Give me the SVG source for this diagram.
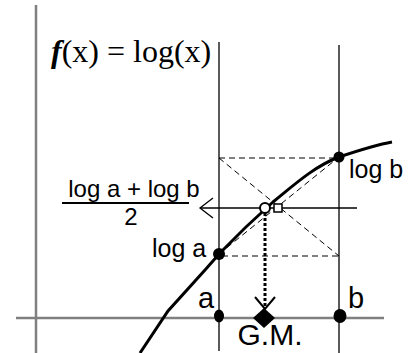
<svg xmlns="http://www.w3.org/2000/svg" width="420" height="353" viewBox="0 0 420 353">
<style>
.axis{stroke:#808080;stroke-width:2.5;fill:none}
.ln{stroke:#000;stroke-width:1.3;fill:none}
.dash{stroke:#000;stroke-width:1;stroke-dasharray:6 4;fill:none}
.lbl{font-family:"Liberation Sans",Arial,sans-serif;fill:#000}
.dot{fill:#000}
</style>
<rect width="420" height="353" fill="#fff"/>
<g id="axes">
<line class="axis" x1="36" y1="5" x2="36" y2="353"/>
<line class="axis" x1="16" y1="318" x2="384" y2="318"/>
</g>
<g id="connectors">
<line class="ln" x1="219" y1="42" x2="219" y2="351"/>
<line class="ln" x1="339" y1="45" x2="339" y2="353"/>
<line class="dash" x1="219" y1="158" x2="335" y2="158"/>
<line class="dash" x1="222" y1="256" x2="339" y2="256"/>
<line class="dash" x1="219" y1="158" x2="339" y2="256"/>
<line class="dash" x1="219" y1="254" x2="339" y2="157"/>
<line class="ln" x1="200" y1="208" x2="357" y2="208"/>
<polyline class="ln" points="213,198 200,208 213,218"/>
<line x1="265" y1="213" x2="265" y2="306" stroke="#000" stroke-width="3" stroke-dasharray="3 2"/>
<polyline points="255,297 265,309 275,297" fill="none" stroke="#000" stroke-width="2"/>
<path d="M140,353 L168,311 L205,270 L220,253 Q246,226 273,202 C295,184 315,166 339,157 C360,150 375,145 392,142" fill="none" stroke="#000" stroke-width="3"/>
<line x1="62" y1="203" x2="189" y2="203" stroke="#000" stroke-width="2"/>
</g>
<g id="title"><text x="51" y="62" font-family="'Liberation Serif','Times New Roman',serif" font-size="32"><tspan font-weight="bold" font-style="italic">f</tspan>(x) = log(x)</text></g>
<g id="logb"><circle class="dot" cx="339" cy="157" r="5.5"/><text class="lbl" x="349" y="178" font-size="25">log b</text></g>
<g id="loga"><circle class="dot" cx="219" cy="254" r="6"/><text class="lbl" x="152" y="257" font-size="25">log a</text></g>
<g id="mean"><text class="lbl" x="134" y="197" font-size="24" text-anchor="middle">log a + log b</text><text class="lbl" x="131" y="225" font-size="24" text-anchor="middle">2</text></g>
<g id="mid"><circle cx="265" cy="208" r="5" fill="#fff" stroke="#000" stroke-width="2"/><rect x="274" y="204" width="8" height="8" fill="#fff" stroke="#000" stroke-width="1.5"/></g>
<g id="pa"><ellipse class="dot" cx="219" cy="316" rx="5" ry="6.5"/><text class="lbl" x="198" y="308" font-size="29">a</text></g>
<g id="pb"><ellipse class="dot" cx="340" cy="316" rx="6.5" ry="7"/><text class="lbl" x="348" y="308" font-size="29">b</text></g>
<g id="gm"><polygon class="dot" points="264,308 275,318 264,328 253,318"/><text class="lbl" x="270" y="345" font-size="30" text-anchor="middle">G.M.</text></g>
</svg>
